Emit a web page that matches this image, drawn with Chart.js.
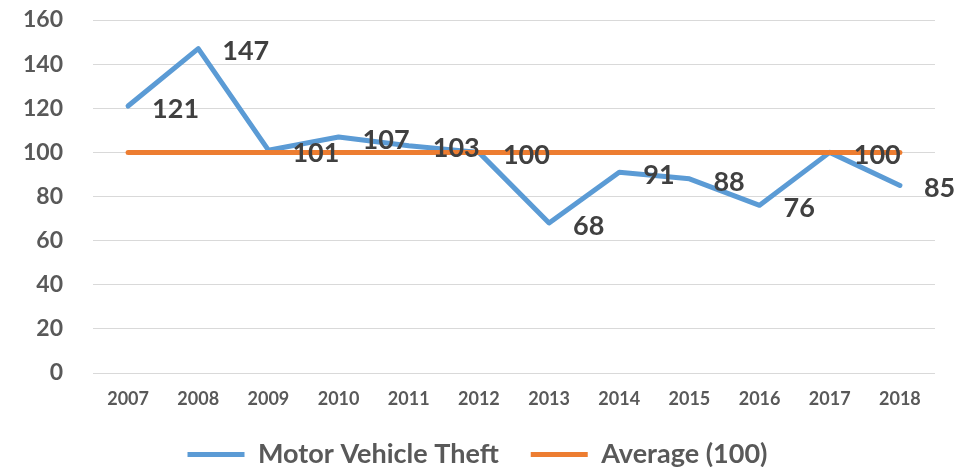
<!DOCTYPE html>
<html>
<head>
<meta charset="utf-8">
<script src="https://cdn.jsdelivr.net/npm/chart.js@4/dist/chart.umd.min.js"></script>
<style>
  html, body { margin: 0; padding: 0; background: #fff; }
  #wrap { width: 969px; height: 467px; position: relative; }
</style>
</head>
<body>
<div id="wrap"><canvas id="c"></canvas></div>
<script>
const years = ['2007','2008','2009','2010','2011','2012','2013','2014','2015','2016','2017','2018'];
const theftValues = [121, 147, 101, 107, 103, 100, 68, 91, 88, 76, 100, 85];
const averageValues = [100, 100, 100, 100, 100, 100, 100, 100, 100, 100, 100, 100];
const yTicks = [0, 20, 40, 60, 80, 100, 120, 140, 160];
const theftLabel = 'Motor Vehicle Theft';
const averageLabel = 'Average (100)';

const FONT = 'Lato, "Open Sans", sans-serif';

const dataLabelPlugin = {
  id: 'dataLabels',
  afterDatasetsDraw(chart) {
    const ctx = chart.ctx;
    const meta = chart.getDatasetMeta(0);
    const ds = chart.data.datasets[0];
    ctx.save();
    ctx.font = 'bold 27px ' + FONT;
    ctx.fillStyle = '#404040';
    ctx.textAlign = 'left';
    ctx.textBaseline = 'middle';
    meta.data.forEach((pt, i) => {
      ctx.fillText(String(ds.data[i]), pt.x + 24, pt.y + 3);
    });
    ctx.restore();
  }
};

new Chart(document.getElementById('c'), {
  type: 'line',
  data: {
    labels: years,
    datasets: [
      {
        label: theftLabel,
        data: theftValues,
        borderColor: '#5b9bd5',
        backgroundColor: '#5b9bd5',
        borderWidth: 5,
        borderCapStyle: 'round',
        borderJoinStyle: 'round',
        pointRadius: 0,
        pointStyle: 'line',
        tension: 0,
        order: 1
      },
      {
        label: averageLabel,
        data: averageValues,
        borderColor: '#ed7d31',
        backgroundColor: '#ed7d31',
        borderWidth: 5,
        borderCapStyle: 'round',
        borderJoinStyle: 'round',
        pointRadius: 0,
        pointStyle: 'line',
        tension: 0,
        order: 0
      }
    ]
  },
  options: {
    responsive: true,
    maintainAspectRatio: false,
    animation: false,
    events: [],
    layout: { padding: { left: 20, right: 34, top: 20, bottom: -11 } },
    scales: {
      x: {
        type: 'category',
        offset: true,
        grid: { display: false, drawTicks: false },
        border: { display: false },
        ticks: {
          color: '#595959',
          font: { family: FONT, size: 18, weight: 'bold' },
          padding: 15,
          maxRotation: 0,
          autoSkip: false
        },
        afterFit(scale) { scale.height = 36; scale.paddingLeft = 0; scale.paddingRight = 0; }
      },
      y: {
        min: 0,
        max: 160,
        afterBuildTicks(scale) { scale.ticks = yTicks.map(v => ({ value: v })); },
        grid: { color: '#d9d9d9', lineWidth: 1, drawTicks: false },
        border: { display: false },
        ticks: {
          color: '#595959',
          font: { family: FONT, size: 23, weight: 'bold' },
          padding: 30
        },
        afterFit(scale) { scale.width = 73; scale.paddingTop = 0; scale.paddingBottom = 0; }
      }
    },
    plugins: {
      legend: {
        position: 'bottom',
        padding: 0,
        labels: {
          usePointStyle: true,
          pointStyleWidth: 57,
          boxHeight: 27,
          padding: 32,
          color: '#595959',
          font: { family: FONT, size: 27, weight: 'bold' },
          sort: (a, b) => a.datasetIndex - b.datasetIndex
        }
      },
      tooltip: { enabled: false }
    }
  },
  plugins: [dataLabelPlugin]
});
</script>
</body>
</html>
